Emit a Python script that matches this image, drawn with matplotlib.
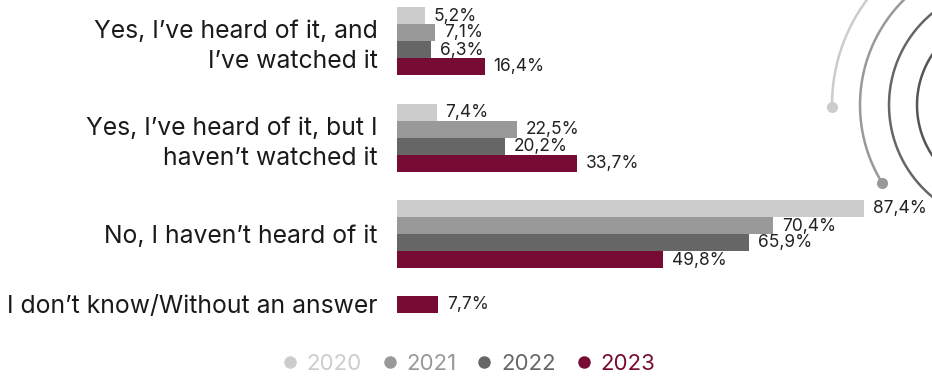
import numpy as np
import matplotlib
matplotlib.use("Agg")
import matplotlib.pyplot as plt
from matplotlib.lines import Line2D

plt.rcParams['font.family'] = ['Inter', 'DejaVu Sans']

categories = [
    "Yes, I\u2019ve heard of it, and\nI\u2019ve watched it",
    "Yes, I\u2019ve heard of it, but I\nhaven\u2019t watched it",
    "No, I haven\u2019t heard of it",
    "I don\u2019t know/Without an answer",
]
years = ["2020", "2021", "2022", "2023"]
values_2020 = [5.2, 7.4, 87.4, None]
values_2021 = [7.1, 22.5, 70.4, None]
values_2022 = [6.3, 20.2, 65.9, None]
values_2023 = [16.4, 33.7, 49.8, 7.7]
series = [values_2020, values_2021, values_2022, values_2023]
colors = ["#cccccc", "#999999", "#666666", "#770b34"]

W, H = 932, 376
fig = plt.figure(figsize=(W / 100, H / 100), dpi=100)

# layout (pixels)
x0_px = 397
px_per_pct = 5.343
group_centers = [41, 137.5, 234, 304.5]
bar_h = 17

ax = fig.add_axes([x0_px / W, 0, (100 * px_per_pct) / W, 1])
ax.set_xlim(0, 100)
ax.set_ylim(H, 0)

for gi, c in enumerate(group_centers):
    present = [si for si, s in enumerate(series) if s[gi] is not None]
    n = len(present)
    for k, si in enumerate(present):
        y = c + (k - (n - 1) / 2) * bar_h
        v = series[si][gi]
        ax.barh(y, v, height=bar_h, color=colors[si], linewidth=0)
        ax.text(v + 9 / px_per_pct, y + 0.5, f"{v:.1f}%".replace(".", ","),
                va="center", ha="left", fontsize=12.5, color="#222222")

ax.set_yticks(group_centers)
ax.set_yticklabels(categories, fontsize=17.8, color="#1a1a1a", linespacing=1.38)
ax.tick_params(axis="y", length=0, pad=14)
ax.set_xticks([])
for s in ax.spines.values():
    s.set_visible(False)
ax.patch.set_alpha(0)

# decorative arcs
ax2 = fig.add_axes([0, 0, 1, 1], zorder=-1)
ax2.set_xlim(0, W)
ax2.set_ylim(H, 0)
ax2.axis("off")
cx, cy = 1008, 105
arcs = [
    (176, 100, 180.8, "#cccccc", True),
    (148, 100, 212, "#999999", True),
    (119, 90, 270, "#666666", False),
    (91, 90, 270, "#555555", False),
]
for r, a0, a1, col, dot in arcs:
    t = np.radians(np.linspace(a0, a1, 200))
    ax2.plot(cx + r * np.cos(t), cy - r * np.sin(t), color=col, lw=1.8,
             solid_capstyle="round")
    if dot:
        te = np.radians(a1)
        ax2.plot(cx + r * np.cos(te), cy - r * np.sin(te), "o", color=col,
                 markersize=8, markeredgewidth=0)

handles = [Line2D([], [], marker="o", linestyle="", color=c, markersize=9,
                  markeredgewidth=0) for c in colors]
leg = fig.legend(handles, years, loc="center", bbox_to_anchor=(467 / W, 1 - 364 / H),
                 ncol=4, frameon=False, fontsize=16, handletextpad=0.25,
                 columnspacing=0.75, labelcolor=colors, handlelength=1.0)

fig.savefig("out.png", dpi=100)
